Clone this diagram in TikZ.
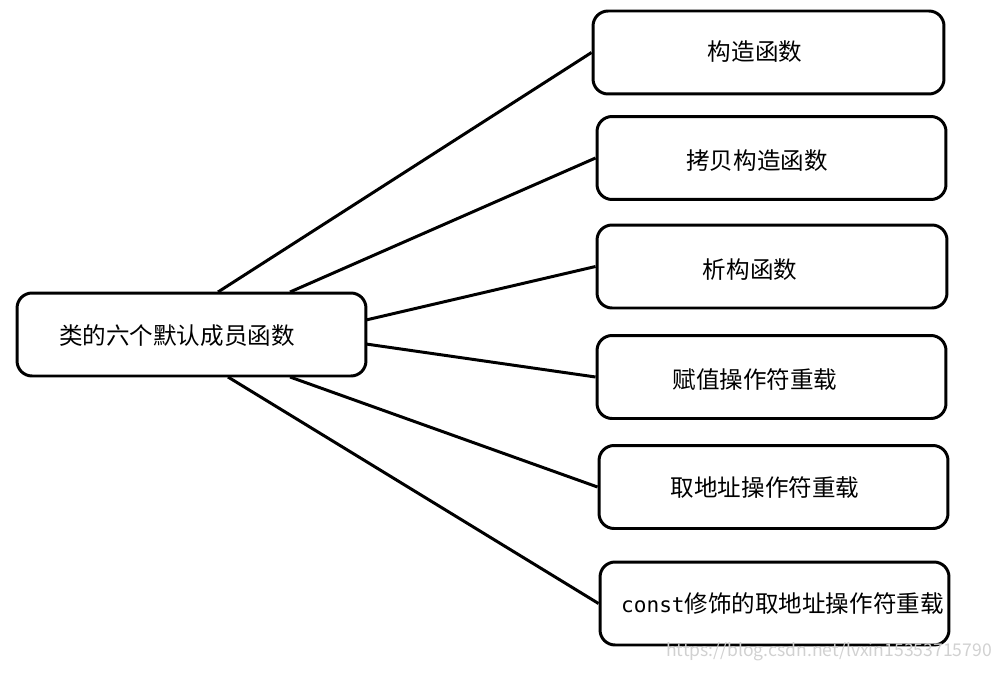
\documentclass[tikz,border=0pt]{standalone}
\usepackage{fontspec}
\setmainfont{Noto Sans CJK SC}
\setmonofont{DejaVu Sans Mono}
\begin{document}
\begin{tikzpicture}[x=0.02cm,y=-0.02cm,
    box/.style={draw, line width=1.7pt, rounded corners=0.3cm, minimum height=1.66cm},
    lbl/.style={font=\fontsize{13.4}{15}\selectfont},
    link/.style={line width=1.7pt}]
    % Canvas
    \useasboundingbox (0,0) rectangle (1006,672);

    % Main box
    \node[box, minimum width=6.98cm] (cls) at (191.5,334.5) {};
    \node[lbl, anchor=west] (clst) at (53,336) {类的六个默认成员函数};

    % Member boxes
    \node[box, minimum width=7.02cm] (f1) at (768.5,52.5) {};
    \node[lbl] at (755,52) {构造函数};
    \node[box, minimum width=6.98cm] (f2) at (771.5,158) {};
    \node[lbl] at (757,161) {拷贝构造函数};
    \node[box, minimum width=7.0cm] (f3) at (772,266.5) {};
    \node[lbl] at (750,270) {析构函数};
    \node[box, minimum width=6.98cm] (f4) at (771.5,377) {};
    \node[lbl] at (755,380) {赋值操作符重载};
    \node[box, minimum width=6.98cm] (f5) at (773.5,487) {};
    \node[lbl] at (765,488) {取地址操作符重载};
    \node[box, minimum width=6.98cm] (f6) at (774.5,603.5) {};
    \node[lbl, anchor=west] at (615,604) {{\fontsize{12}{14}\selectfont\ttfamily const}修饰的取地址操作符重载};

    % Connector ends on the main box
    \coordinate (s1) at (218,292);
    \coordinate (s2) at (290,292);
    \coordinate (s3) at (366,320);
    \coordinate (s4) at (366,344);
    \coordinate (s5) at (290,377);
    \coordinate (s6) at (228,377);

    % Connectors
    \draw[link] (s1) -- (f1.west);
    \draw[link] (s2) -- (f2.west);
    \draw[link] (s3) -- (f3.west);
    \draw[link] (s4) -- (f4.west);
    \draw[link] (s5) -- (f5.west);
    \draw[link] (s6) -- (f6.west);

    % Watermark
    \node[anchor=east, text=black!18, font=\fontsize{10}{12}\selectfont] (wm) at (998,652) {https://blog.csdn.net/lvxin15353715790};
\end{tikzpicture}
\end{document}
